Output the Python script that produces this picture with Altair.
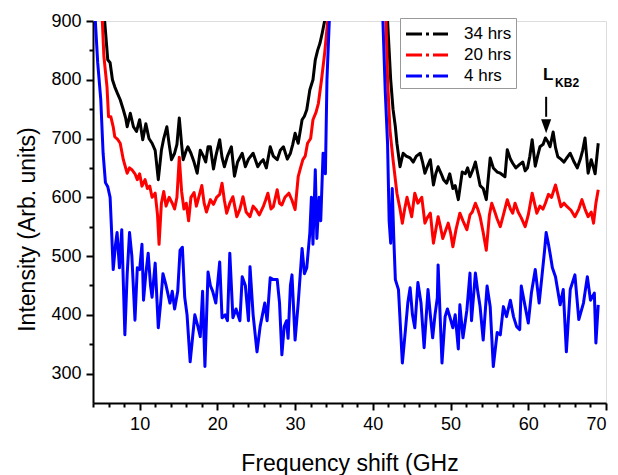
import altair as alt
import pandas as pd

FONT = "Liberation Sans"

series_names = ["34 hrs", "20 hrs", "4 hrs"]
series_colors = ["#000000", "#ff0000", "#0000ff"]

# ---- 34 hrs (black) ----
black_left_x = [5.0, 5.5, 5.9, 6.2, 6.5, 6.8, 7.2, 7.5, 7.9, 8.2, 8.4, 8.8, 9.2, 9.6, 10.0, 10.4, 10.8, 11.2, 11.6, 12.0,
                12.4, 12.8, 13.1, 13.5, 13.8, 14.1, 14.5, 14.8, 15.1, 15.4, 15.6, 16.0, 16.2, 16.6, 17.0, 17.4, 17.8, 18.2,
                18.5, 18.8, 19.1, 19.5, 19.8, 20.3, 20.6, 20.9, 21.3, 21.8, 22.2, 22.6, 23.2, 23.6, 24.0, 24.6, 25.2, 25.6,
                25.9, 26.3, 26.8, 27.2, 27.7, 28.1, 28.5, 29.0, 29.4, 29.7, 30.0, 30.4, 30.9, 31.2, 31.5, 31.9, 32.3, 32.6,
                32.9, 33.2, 33.5, 33.8, 34.0]
black_left_y = [980, 900, 834, 829, 800, 788, 775, 766, 749, 735, 720, 743, 720, 712, 732, 698, 725, 700, 692, 680,
                630, 680, 700, 720, 690, 664, 675, 690, 735, 690, 664, 680, 686, 675, 660, 641, 680, 670,
                660, 686, 686, 648, 670, 698, 668, 652, 670, 686, 636, 660, 675, 652, 665, 675, 652, 660,
                664, 650, 686, 670, 664, 680, 686, 665, 675, 690, 709, 692, 732, 738, 749, 783, 800, 834,
                850, 862, 880, 900, 940]
black_right_x = [41.6, 41.9, 42.3, 42.6, 42.9, 43.1, 43.5, 43.9, 44.3, 44.8, 45.2, 45.6, 46.1, 46.4, 46.7, 47.1, 47.4,
                 47.8, 48.1, 48.4, 48.8, 49.1, 49.5, 49.9, 50.3, 50.6, 51.0, 51.5, 51.9, 52.2, 52.5, 52.9, 53.2, 53.5,
                 53.8, 54.2, 54.6, 55.1, 55.5, 56.0, 56.4, 57.0, 57.3, 57.7, 58.0, 58.4, 58.9, 59.3, 59.6, 59.9, 60.2,
                 60.5, 60.9, 61.2, 61.5, 61.9, 62.2, 62.5, 62.8, 63.2, 63.5, 63.8, 64.2, 64.6, 65.0, 65.4, 65.9, 66.3,
                 66.7, 67.0, 67.3, 67.7, 68.1, 68.4, 68.6, 69.0]
black_right_y = [980, 900, 800, 750, 720, 692, 652, 675, 670, 667, 660, 670, 675, 660, 641, 655, 664,
                 621, 640, 652, 640, 630, 624, 640, 615, 620, 596, 643, 640, 650, 635, 648, 660, 640,
                 620, 615, 596, 667, 650, 643, 641, 635, 681, 665, 658, 650, 656, 660, 645, 650, 670,
                 698, 653, 670, 686, 690, 701, 695, 686, 711, 685, 669, 665, 660, 668, 675, 660, 650,
                 665, 680, 701, 641, 664, 650, 640, 692]

# ---- 20 hrs (red) ----
red_left_x = [4.8, 5.2, 5.4, 5.8, 6.0, 6.3, 6.6, 6.8, 7.2, 7.5, 7.9, 8.4, 8.7, 9.0, 9.4, 9.7, 10.0, 10.3, 10.7, 11.0,
              11.3, 11.6, 12.0, 12.3, 12.5, 12.8, 13.1, 13.4, 13.8, 14.2, 14.5, 14.8, 15.1, 15.4, 15.7, 16.0, 16.3,
              16.6, 17.0, 17.3, 17.6, 18.0, 18.3, 18.6, 19.1, 19.5, 19.9, 20.3, 20.6, 20.9, 21.2, 21.6, 22.0, 22.5,
              22.9, 23.3, 23.7, 24.2, 24.6, 25.0, 25.4, 25.9, 26.2, 26.5, 26.9, 27.2, 27.7, 28.0, 28.3, 28.7, 29.2,
              29.6, 30.0, 30.4, 30.7, 31.0, 31.3, 31.6, 32.0, 32.3, 32.7, 33.0, 33.4, 33.8, 34.2, 34.4]
red_left_y = [980, 900, 840, 788, 737, 737, 720, 703, 698, 692, 664, 641, 650, 647, 640, 630, 640, 619, 630, 615,
              619, 600, 607, 570, 520, 590, 610, 585, 600, 590, 580, 600, 668, 610, 580, 590, 560,
              600, 608, 585, 600, 620, 590, 575, 596, 588, 600, 605, 624, 595, 573, 590, 601, 567,
              580, 601, 575, 567, 585, 579, 570, 584, 595, 607, 580, 584, 613, 590, 587, 600, 607,
              595, 579, 635, 650, 664, 670, 692, 700, 732, 745, 760, 800, 845, 900, 950]
red_right_x = [41.4, 41.7, 41.9, 42.2, 42.6, 43.1, 43.5, 43.8, 44.1, 44.4, 45.0, 45.4, 45.8, 46.3, 46.7, 47.0, 47.4,
               47.8, 48.1, 48.4, 48.7, 49.0, 49.4, 49.7, 50.0, 50.3, 50.7, 51.2, 51.6, 52.1, 52.5, 52.8, 53.2, 53.5,
               53.8, 54.2, 54.6, 55.0, 55.3, 55.7, 56.0, 56.4, 56.8, 57.3, 57.7, 58.0, 58.3, 58.7, 59.1, 59.6, 60.0,
               60.5, 60.8, 61.1, 61.5, 61.9, 62.2, 62.6, 63.0, 63.5, 63.9, 64.2, 64.6, 65.0, 65.5, 66.0, 66.5, 66.9,
               67.3, 67.7, 68.1, 68.4, 68.7, 69.0]
red_right_y = [980, 900, 800, 715, 664, 607, 580, 556, 580, 600, 567, 607, 590, 600, 556, 565, 573,
               522, 545, 567, 550, 530, 545, 556, 540, 516, 545, 573, 560, 545, 570, 575, 590, 580,
               567, 540, 510, 570, 590, 575, 563, 550, 570, 596, 580, 573, 590, 575, 565, 550, 570,
               607, 590, 573, 585, 580, 590, 605, 600, 621, 600, 584, 590, 584, 578, 567, 580, 596,
               580, 567, 575, 556, 590, 613]

# ---- 4 hrs (blue) ----
blue_left_x = [4.1, 4.3, 4.6, 5.0, 5.3, 5.6, 5.9, 6.2, 6.4, 6.6, 6.9, 7.1, 7.4, 7.7, 8.1, 8.4, 8.7, 9.0, 9.4, 9.7,
               10.0, 10.3, 10.5, 10.8, 11.1, 11.4, 11.6, 12.0, 12.4, 12.7, 13.0, 13.4, 13.9, 14.2, 14.5, 14.9, 15.2,
               15.5, 15.8, 16.1, 16.5, 16.8, 17.1, 17.5, 17.8, 18.1, 18.4, 18.8, 19.1, 19.4, 19.8, 20.3, 20.6, 21.0,
               21.3, 21.6, 22.0, 22.4, 22.9, 23.2, 23.6, 24.0, 24.2, 24.6, 25.1, 25.5, 25.8, 26.1, 26.4, 26.8, 27.2,
               27.7, 28.0, 28.3, 28.6, 28.9, 29.1, 29.4, 29.6, 30.0, 30.4, 30.9, 31.2, 31.5, 31.9, 32.1, 32.3, 32.6,
               32.8, 33.1, 33.3, 33.6, 33.9, 34.1, 34.4, 34.6]
blue_left_y = [980, 900, 830, 766, 675, 625, 618, 600, 540, 477, 520, 540, 480, 545, 366, 470, 540, 500, 391, 480,
               477, 520, 425, 470, 505, 450, 430, 488, 378, 420, 470, 450, 420, 440, 410, 440, 510,
               515, 430, 400, 320, 360, 400, 380, 363, 440, 312, 473, 450, 440, 420, 490, 395, 400,
               390, 505, 395, 410, 390, 465, 450, 390, 482, 400, 337, 380, 400, 420, 390, 463, 460,
               460, 420, 332, 380, 390, 360, 450, 468, 357, 420, 513, 470, 480, 540, 600, 520, 647,
               530, 600, 560, 675, 640, 800, 900, 960]
blue_right_x = [41.1, 41.3, 41.6, 41.9, 42.1, 42.3, 42.5, 42.7, 42.9, 43.3, 43.8, 44.2, 44.5, 44.8, 45.1, 45.4, 45.8,
                46.2, 46.6, 47.1, 47.4, 47.7, 48.0, 48.3, 48.4, 48.9, 49.3, 49.6, 49.9, 50.3, 50.6, 51.0, 51.2, 51.6,
                52.1, 52.5, 52.7, 53.2, 53.5, 53.8, 54.2, 54.7, 55.1, 55.5, 56.0, 56.4, 56.8, 57.2, 57.7, 58.1, 58.5,
                58.9, 59.1, 59.6, 60.0, 60.4, 60.9, 61.4, 61.8, 62.1, 62.3, 62.6, 62.8, 63.1, 63.5, 64.1, 64.5, 64.9,
                65.4, 66.0, 66.5, 67.1, 67.6, 68.0, 68.5, 68.7, 69.0]
blue_right_y = [980, 900, 780, 690, 560, 522, 615, 530, 460, 443, 318, 375, 420, 446, 400, 378, 455,
                420, 344, 443, 400, 361, 400, 429, 485, 318, 397, 410, 397, 378, 400, 342, 417, 361,
                408, 471, 390, 471, 440, 414, 357, 449, 414, 312, 370, 366, 414, 397, 425, 397, 380,
                375, 449, 414, 386, 437, 477, 420, 471, 510, 540, 520, 505, 480, 465, 417, 443, 337,
                443, 468, 392, 420, 465, 425, 437, 352, 417]

# axis ticks
x_major = [10, 20, 30, 40, 50, 60, 70]
x_minor = [v for v in range(4, 71, 2) if v % 10 != 0]
y_major = [300, 400, 500, 600, 700, 800, 900]
y_minor = [350, 450, 550, 650, 750, 850]

# annotation
ann_arrow_x = 62.3
ann_arrow_top = 771
ann_arrow_base = 737
ann_arrow_tip = 709
ann_L = {"x": 61.9, "y": 800, "t": "L"}
ann_sub = {"x": 63.45, "y": 788, "t": "KB2"}

rows = []
def add(name, seg, xs, ys):
    for xv, yv in zip(xs, ys):
        rows.append({"series": name, "seg": name + seg, "x": xv, "y": yv})

add("34 hrs", "L", black_left_x, black_left_y)
add("34 hrs", "R", black_right_x, black_right_y)
add("20 hrs", "L", red_left_x, red_left_y)
add("20 hrs", "R", red_right_x, red_right_y)
add("4 hrs", "L", blue_left_x, blue_left_y)
add("4 hrs", "R", blue_right_x, blue_right_y)
df = pd.DataFrame(rows)

XDOM = [4, 70]
YDOM = [250, 900]
xs = alt.Scale(domain=XDOM, nice=False, zero=False)
ys = alt.Scale(domain=YDOM, nice=False, zero=False)

axis_common = dict(grid=False, domainColor="black", domainWidth=2, tickColor="black", tickWidth=2,
                   labelColor="black", labelFont=FONT, labelFontSize=18, titleFont=FONT, titleFontSize=23,
                   titleFontWeight="normal", titleColor="black")

x_axis = alt.Axis(values=x_major, tickSize=7, labelPadding=5, title="Frequency shift (GHz",
                  titleBaseline="alphabetic", titleY=67, **axis_common)
y_axis = alt.Axis(values=y_major, tickSize=7, labelPadding=5, title="Intensity (Arb. units)",
                  titleAngle=270, titleBaseline="alphabetic", titleX=-59, titleY=208, **axis_common)

lines = alt.Chart(df).mark_line(strokeWidth=3, clip=True, strokeJoin="round").encode(
    x=alt.X("x:Q", scale=xs, axis=x_axis),
    y=alt.Y("y:Q", scale=ys, axis=y_axis),
    color=alt.Color("series:N", scale=alt.Scale(domain=series_names, range=series_colors),
                    legend=alt.Legend(title=None, orient="none", legendX=307, legendY=-3,
                                      symbolType="M-2,0L2,0", symbolSize=441, symbolOffset=11,
                                      symbolStrokeWidth=3, symbolDash=[16, 4, 3, 4],
                                      rowPadding=1, labelFontSize=17, labelFont=FONT, labelColor="black",
                                      strokeColor="#999999", fillColor="white", padding=4,
                                      labelOffset=25)),
    detail="seg:N",
)

arrow_df = pd.DataFrame({"x": [ann_arrow_x], "y": [ann_arrow_top], "y2": [ann_arrow_base], "tip": [ann_arrow_tip]})
arrow_stem = alt.Chart(arrow_df).mark_rule(color="black", strokeWidth=2).encode(
    x=alt.X("x:Q", scale=xs), y=alt.Y("y:Q", scale=ys), y2="y2:Q")
arrow_head = alt.Chart(arrow_df).mark_point(
    shape="M-0.36,-1 L0.36,-1 L0,0 Z", filled=True, color="black", opacity=1, size=784).encode(
    x=alt.X("x:Q", scale=xs), y=alt.Y("tip:Q", scale=ys))

L_text = alt.Chart(pd.DataFrame([ann_L])).mark_text(
    font=FONT, fontSize=17, fontWeight="bold", align="left", baseline="alphabetic", color="black").encode(
    x=alt.X("x:Q", scale=xs), y=alt.Y("y:Q", scale=ys), text="t:N")
sub_text = alt.Chart(pd.DataFrame([ann_sub])).mark_text(
    font=FONT, fontSize=12, fontWeight="bold", align="left", baseline="alphabetic", color="black").encode(
    x=alt.X("x:Q", scale=xs), y=alt.Y("y:Q", scale=ys), text="t:N")

main = alt.layer(lines, arrow_stem, arrow_head, L_text, sub_text)

# invisible layer carrying the minor tick axes
minor_common = dict(grid=False, domain=False, labels=False, tickColor="black", tickWidth=2, title=None)
minor = alt.Chart(df).mark_point(opacity=0).encode(
    x=alt.X("x:Q", scale=alt.Scale(domain=XDOM, nice=False, zero=False),
            axis=alt.Axis(values=x_minor, tickSize=4, orient="bottom", **minor_common)),
    y=alt.Y("y:Q", scale=alt.Scale(domain=YDOM, nice=False, zero=False),
            axis=alt.Axis(values=y_minor, tickSize=4, orient="left", **minor_common)),
)

chart = alt.layer(main, minor).resolve_scale(x="independent", y="independent").properties(
    width=513, height=382,
    autosize=alt.AutoSizeParams(type="none"),
    padding={"left": 85, "top": 13, "right": 4, "bottom": 80},
    background="white",
).configure_view(stroke=None).configure(font=FONT)

chart.save("out.html", embed_options={"renderer": "svg", "actions": False})
